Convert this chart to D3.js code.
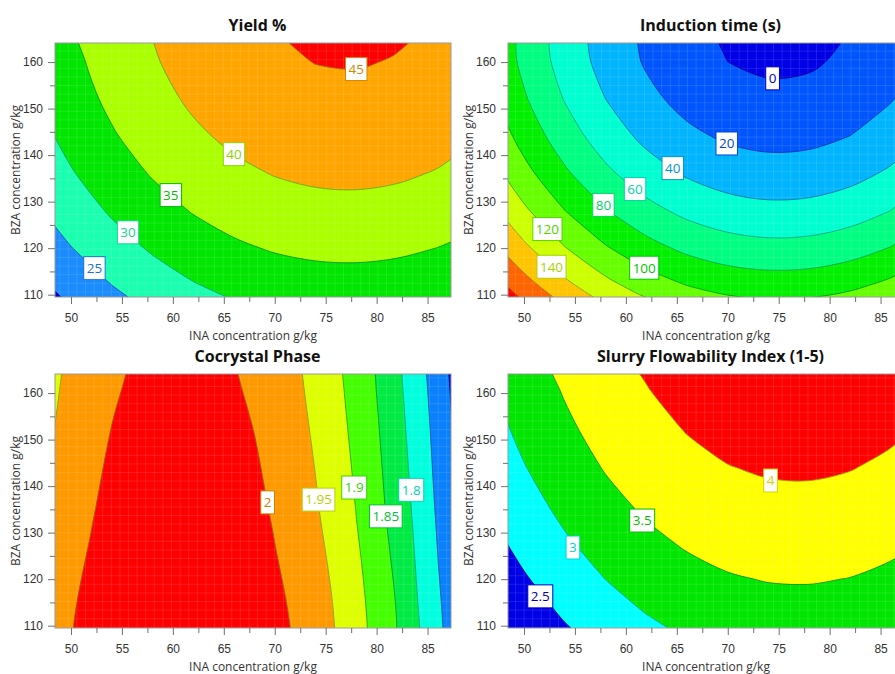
<!DOCTYPE html>
<html>
<head>
<meta charset="utf-8">
<script src="https://cdn.jsdelivr.net/npm/d3@7"></script>
<style>
  body { margin: 0; background: #fff; }
  svg { display: block; font-family: 'Open Sans', 'Noto Sans', sans-serif; }
</style>
</head>
<body>
<svg id="chart" width="895" height="674"></svg>
<script>
// grid nodes of the response surfaces (INA on x, BZA on y)
const xNodes = [46, 50, 54, 58, 62, 66, 70, 74, 78, 82, 86, 90]
const yNodes = [104, 112, 120, 128, 136, 144, 152, 160, 168]
const xTicks = [50, 55, 60, 65, 70, 75, 80, 85]
const xMinorTicks = [52.5, 57.5, 62.5, 67.5, 72.5, 77.5, 82.5]
const yTicks = [110, 120, 130, 140, 150, 160]
const yMinorTicks = [115, 125, 135, 145, 155]

// rows go from BZA 104 up to BZA 168
const yieldLevels = [20, 25, 30, 35, 40, 45]
const yieldGrid = [
  [14.95, 18.53, 21.62, 24.22, 26.33, 27.94, 29.06, 29.69, 29.83, 29.47, 28.62, 27.28],
  [18.31, 21.89, 24.98, 27.58, 29.69, 31.30, 32.42, 33.05, 33.19, 32.83, 31.98, 30.64],
  [21.28, 24.86, 27.95, 30.55, 32.66, 34.27, 35.39, 36.02, 36.16, 35.80, 34.95, 33.61],
  [23.87, 27.45, 30.54, 33.14, 35.25, 36.86, 37.98, 38.61, 38.75, 38.39, 37.54, 36.20],
  [26.06, 29.64, 32.73, 35.33, 37.44, 39.05, 40.17, 40.80, 40.94, 40.58, 39.73, 38.39],
  [27.87, 31.45, 34.54, 37.14, 39.25, 40.86, 41.98, 42.61, 42.75, 42.39, 41.54, 40.20],
  [29.29, 32.87, 35.96, 38.56, 40.67, 42.28, 43.40, 44.03, 44.17, 43.81, 42.96, 41.62],
  [30.32, 33.90, 36.99, 39.59, 41.70, 43.31, 44.43, 45.06, 45.20, 44.84, 43.99, 42.65],
  [30.97, 34.55, 37.64, 40.24, 42.35, 43.96, 45.08, 45.71, 45.85, 45.49, 44.64, 43.30]
]
const yieldLabels = [
  { v: 25, x: 52.3, y: 115.7 }, { v: 30, x: 55.6, y: 123.4 }, { v: 35, x: 59.8, y: 131.4 },
  { v: 40, x: 66.0, y: 140.2 }, { v: 45, x: 78.0, y: 158.5 }
]

const inductionLevels = [0, 20, 40, 60, 80, 100, 120, 140, 160, 180]
const inductionGrid = [
  [222.73, 195.62, 172.53, 153.45, 138.39, 127.35, 120.32, 117.31, 118.31, 123.33, 132.37, 145.42],
  [195.24, 168.13, 145.04, 125.96, 110.90, 99.86, 92.83, 89.82, 90.82, 95.84, 104.88, 117.93],
  [171.18, 144.07, 120.98, 101.90, 86.84, 75.80, 68.77, 65.76, 66.76, 71.78, 80.82, 93.87],
  [150.56, 123.45, 100.36, 81.28, 66.22, 55.18, 48.15, 45.14, 46.14, 51.16, 60.20, 73.25],
  [133.38, 106.27, 83.18, 64.10, 49.04, 38.00, 30.97, 27.96, 28.96, 33.98, 43.02, 56.07],
  [119.63, 92.52, 69.43, 50.35, 35.29, 24.25, 17.22, 14.21, 15.21, 20.23, 29.27, 42.32],
  [109.32, 82.21, 59.12, 40.04, 24.98, 13.94, 6.91, 3.90, 4.90, 9.92, 18.96, 32.01],
  [102.45, 75.34, 52.25, 33.17, 18.11, 7.07, 0.04, -2.97, -1.97, 3.05, 12.09, 25.14],
  [99.01, 71.90, 48.81, 29.73, 14.67, 3.63, -3.40, -6.41, -5.41, -0.39, 8.65, 21.70]
]
const inductionLabels = [
  { v: 0, x: 74.4, y: 156.5 }, { v: 20, x: 69.9, y: 142.5 }, { v: 40, x: 64.6, y: 137.2 },
  { v: 60, x: 60.9, y: 132.7 }, { v: 80, x: 57.8, y: 129.3 }, { v: 100, x: 61.8, y: 115.8 },
  { v: 120, x: 52.3, y: 124.1 }, { v: 140, x: 52.7, y: 116.0 }
]

// cocrystal phase barely changes along BZA, so it is sampled finer along INA
const cocrystalXNodes = [46, 48, 50, 52, 54, 56, 58, 60, 62, 64, 66, 68, 70, 72, 74, 76, 78, 80, 82, 84, 86, 88, 90]
const cocrystalYNodes = [104, 136, 168]
const cocrystalLevels = [1.7, 1.75, 1.8, 1.85, 1.9, 1.95, 2]
const cocrystalGrid = [
  [1.9513, 1.9769, 1.9988, 2.0170, 2.0315, 2.0424, 2.0495, 2.0530, 2.0528, 2.0490, 2.0414, 2.0302,
   2.0153, 1.9967, 1.9745, 1.9485, 1.9189, 1.8856, 1.8486, 1.8079, 1.7636, 1.7156, 1.6639],
  [1.9308, 1.9564, 1.9783, 1.9965, 2.0110, 2.0219, 2.0290, 2.0325, 2.0323, 2.0285, 2.0209, 2.0097,
   1.9948, 1.9762, 1.9540, 1.9280, 1.8984, 1.8651, 1.8281, 1.7874, 1.7431, 1.6951, 1.6434],
  [1.9103, 1.9359, 1.9578, 1.9760, 1.9905, 2.0014, 2.0085, 2.0120, 2.0118, 2.0080, 2.0004, 1.9892,
   1.9743, 1.9557, 1.9335, 1.9075, 1.8779, 1.8446, 1.8076, 1.7669, 1.7226, 1.6746, 1.6229]
]
const cocrystalLabels = [
  { v: 2, x: 69.3, y: 136.5 }, { v: 1.95, x: 74.3, y: 137.1 }, { v: 1.9, x: 77.8, y: 139.7 },
  { v: 1.85, x: 80.9, y: 133.5 }, { v: 1.8, x: 83.4, y: 139.2 }
]

const slurryLevels = [2.5, 3, 3.5, 4]
const slurryGrid = [
  [1.659, 2.004, 2.301, 2.551, 2.752, 2.905, 3.011, 3.068, 3.078, 3.039, 2.953, 2.819],
  [1.895, 2.240, 2.537, 2.787, 2.988, 3.141, 3.247, 3.304, 3.314, 3.275, 3.189, 3.055],
  [2.111, 2.456, 2.753, 3.003, 3.204, 3.357, 3.463, 3.520, 3.530, 3.491, 3.405, 3.271],
  [2.306, 2.651, 2.948, 3.198, 3.399, 3.552, 3.658, 3.715, 3.725, 3.686, 3.600, 3.466],
  [2.481, 2.826, 3.123, 3.373, 3.574, 3.727, 3.833, 3.890, 3.900, 3.861, 3.775, 3.641],
  [2.636, 2.981, 3.278, 3.528, 3.729, 3.882, 3.988, 4.045, 4.055, 4.016, 3.930, 3.796],
  [2.770, 3.115, 3.412, 3.662, 3.863, 4.016, 4.122, 4.179, 4.189, 4.150, 4.064, 3.930],
  [2.884, 3.229, 3.526, 3.776, 3.977, 4.130, 4.236, 4.293, 4.303, 4.264, 4.178, 4.044],
  [2.978, 3.323, 3.620, 3.870, 4.071, 4.224, 4.330, 4.387, 4.397, 4.358, 4.272, 4.138]
]
const slurryLabels = [
  { v: 4, x: 74.2, y: 141.2 }, { v: 3.5, x: 61.6, y: 132.6 }, { v: 3, x: 54.8, y: 126.8 },
  { v: 2.5, x: 51.6, y: 116.3 }
]

const panels = [
  { title: 'Yield %', left: 55, top: 43, xs: xNodes, ys: yNodes, grid: yieldGrid, levels: yieldLevels, labels: yieldLabels,
    colors: ['#0000dd', '#1a8cff', '#1affb0', '#00e600', '#aaff00', '#ffa500', '#ff0000'] },
  { title: 'Induction time (s)', left: 508, top: 43, xs: xNodes, ys: yNodes, grid: inductionGrid, levels: inductionLevels, labels: inductionLabels,
    colors: ['#0000e6', '#0055ff', '#00b4ff', '#00ffd0', '#00ff80', '#00f000', '#66ff00', '#ccff00', '#ffc400', '#ff6400', '#ff0000'] },
  { title: 'Cocrystal Phase', left: 55, top: 374, xs: cocrystalXNodes, ys: cocrystalYNodes, grid: cocrystalGrid, levels: cocrystalLevels, labels: cocrystalLabels,
    colors: ['#0000e6', '#0a80ff', '#00ffdd', '#00ea44', '#44ff00', '#ddff00', '#ff9900', '#ff0000'] },
  { title: 'Slurry Flowability Index (1-5)', left: 508, top: 374, xs: xNodes, ys: yNodes, grid: slurryGrid, levels: slurryLevels, labels: slurryLabels,
    colors: ['#0000e6', '#00ffff', '#00e600', '#ffff00', '#ff0000'] }
]

const plotW = 396
const plotH = 254
const svg = d3.select('#chart')
const defs = svg.append('defs')

defs.append('pattern')
  .attr('id', 'mesh')
  .attr('patternUnits', 'userSpaceOnUse')
  .attr('width', 8.6)
  .attr('height', 8.6)
  .append('path')
  .attr('d', 'M 8.6 0 V 8.6 M 0 8.6 H 8.6')
  .attr('stroke', '#fff')
  .attr('stroke-opacity', 0.22)
  .attr('stroke-width', 1)
  .attr('fill', 'none')

panels.forEach((p, idx) => drawPanel(p, idx))

function drawPanel(p, idx) {
  const x = d3.scaleLinear().domain([48.43, 87.3]).range([p.left, p.left + plotW])
  const y = d3.scaleLinear().domain([109.5, 164.1]).range([p.top + plotH, p.top])
  // contour grid coordinates -> data units (sample i sits at i + 0.5)
  const gx = d3.scaleLinear().domain([0.5, p.xs.length - 0.5]).range([p.xs[0], p.xs[p.xs.length - 1]])
  const gy = d3.scaleLinear().domain([0.5, p.ys.length - 0.5]).range([p.ys[0], p.ys[p.ys.length - 1]])

  const contours = d3.contours()
    .size([p.xs.length, p.ys.length])
    .thresholds(p.levels)(p.grid.flat())

  const ringLine = d3.line().curve(d3.curveCatmullRomClosed.alpha(0.5))
  const pathOf = mp => mp.coordinates
    .map(poly => poly.map(ring => ringLine(ring.slice(0, -1).map(([cx, cy]) => [x(gx(cx)), y(gy(cy))]))).join(''))
    .join('')

  const clipId = 'clip' + idx
  defs.append('clipPath').attr('id', clipId)
    .append('rect')
    .attr('x', p.left).attr('y', p.top)
    .attr('width', plotW).attr('height', plotH)

  const g = svg.append('g').attr('clip-path', `url(#${clipId})`)

  g.append('rect')
    .attr('x', p.left).attr('y', p.top)
    .attr('width', plotW).attr('height', plotH)
    .attr('fill', p.colors[0])

  g.selectAll('path.band')
    .data(contours)
    .join('path')
    .attr('class', 'band')
    .attr('d', pathOf)
    .attr('fill', (d, i) => p.colors[i + 1])

  g.append('rect')
    .attr('x', p.left).attr('y', p.top)
    .attr('width', plotW).attr('height', plotH)
    .attr('fill', 'url(#mesh)')

  g.selectAll('path.line')
    .data(contours)
    .join('path')
    .attr('class', 'line')
    .attr('d', pathOf)
    .attr('fill', 'none')
    .attr('stroke', (d, i) => d3.color(p.colors[i]).darker(1.3))
    .attr('stroke-opacity', 0.85)
    .attr('stroke-width', 1)

  svg.append('rect')
    .attr('x', p.left).attr('y', p.top)
    .attr('width', plotW).attr('height', plotH)
    .attr('fill', 'none')
    .attr('stroke', '#9a9a9a')

  // axes
  const styleAxis = sel => {
    sel.select('.domain').remove()
    sel.selectAll('.tick line').attr('stroke', '#707070')
    sel.selectAll('.tick text').attr('fill', '#333').attr('font-size', 12).attr('font-family', null)
  }
  svg.append('g')
    .attr('transform', `translate(0, ${p.top + plotH})`)
    .call(d3.axisBottom(x).tickValues(xTicks).tickSize(7).tickPadding(9))
    .call(styleAxis)
  svg.append('g')
    .attr('transform', `translate(0, ${p.top + plotH})`)
    .call(d3.axisBottom(x).tickValues(xMinorTicks).tickSize(5).tickFormat(''))
    .call(styleAxis)
  svg.append('g')
    .attr('transform', `translate(${p.left}, 0)`)
    .call(d3.axisLeft(y).tickValues(yTicks).tickSize(7).tickPadding(5))
    .call(styleAxis)
  svg.append('g')
    .attr('transform', `translate(${p.left}, 0)`)
    .call(d3.axisLeft(y).tickValues(yMinorTicks).tickSize(5).tickFormat(''))
    .call(styleAxis)

  svg.append('text')
    .attr('x', p.left + plotW / 2 + 4.5)
    .attr('y', p.top - 12.5)
    .attr('text-anchor', 'middle')
    .attr('font-size', 16)
    .attr('font-weight', 'bold')
    .attr('fill', '#111')
    .text(p.title)

  svg.append('text')
    .attr('x', p.left + plotW / 2)
    .attr('y', p.top + plotH + 42.5)
    .attr('text-anchor', 'middle')
    .attr('font-size', 12)
    .attr('fill', '#333')
    .text('INA concentration g/kg')

  svg.append('text')
    .attr('transform', `translate(${p.left - 35.5}, ${p.top + plotH / 2}) rotate(-90)`)
    .attr('text-anchor', 'middle')
    .attr('font-size', 12)
    .attr('fill', '#333')
    .text('BZA concentration g/kg')

  // contour labels
  const lab = svg.append('g').attr('clip-path', `url(#${clipId})`)
  p.labels.forEach(l => {
    const c = d3.color(p.colors[p.levels.indexOf(l.v)]).darker(0.55)
    const box = lab.append('g').attr('transform', `translate(${x(l.x)}, ${y(l.y)})`)
    const rect = box.append('rect').attr('fill', '#fff').attr('stroke', c).attr('stroke-width', 1)
    const t = box.append('text')
      .attr('text-anchor', 'middle')
      .attr('dy', '0.36em')
      .attr('font-size', 13.5)
      .attr('fill', c)
      .text(String(l.v))
    const w = t.node().getComputedTextLength() + 6
    rect.attr('x', -w / 2).attr('y', -11.5).attr('width', w).attr('height', 23)
  })
}
</script>
</body>
</html>
